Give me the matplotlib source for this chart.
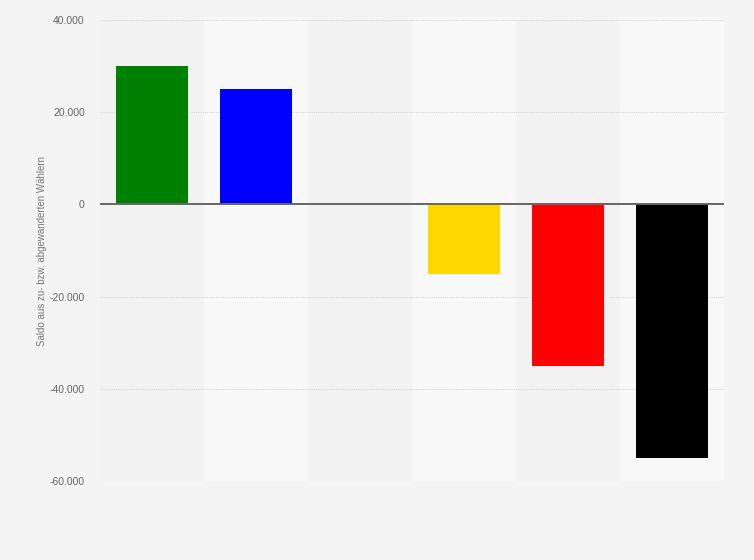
import matplotlib
matplotlib.use("Agg")
import matplotlib.pyplot as plt
from matplotlib.ticker import FuncFormatter

# Saldo der Wählerwanderung je Partei
parteien = ["Grüne", "Piraten", "Sonstige", "FDP", "SPD", "CDU"]
saldo = [30000, 25000, 0, -15000, -35000, -55000]
farben = ["#008000", "#0000ff", "#999999", "#fcd700", "#ff0000", "#000000"]
y_ticks = [-60000, -40000, -20000, 0, 20000, 40000]

plt.rcParams['font.family'] = ['Liberation Sans', 'DejaVu Sans']

fig = plt.figure(figsize=(7.54, 5.6), dpi=100)
fig.patch.set_facecolor("#f4f4f4")
ax = fig.add_axes([100/754, 1 - 481/560, 624/754, 461/560])
ax.set_facecolor("#f2f2f2")

x = list(range(len(parteien)))
# alternating column bands
for i in x:
    if i % 2 == 1:
        ax.axvspan(i - 0.5, i + 0.5, color="#f8f8f8", zorder=0, lw=0)

ax.bar(x, saldo, width=0.69, color=farben, zorder=3)
ax.axhline(0, color="#666666", lw=1.4, zorder=4)

ax.set_xlim(-0.5, len(parteien) - 0.5)
ax.set_ylim(-60000, 40000)
ax.set_yticks(y_ticks)
ax.yaxis.set_major_formatter(FuncFormatter(lambda v, p: f"{int(v):,}".replace(",", ".")))
ax.grid(axis="y", color="#d8d8d8", linestyle=(0, (1, 1)), lw=0.8, zorder=1)
ax.set_xticks([])
ax.tick_params(axis="y", length=0, labelsize=7.5, labelcolor="#666666", pad=11)
for s in ax.spines.values():
    s.set_visible(False)

ax.set_ylabel("Saldo aus zu- bzw. abgewanderten Wählern", fontsize=7, color="#777777", labelpad=2)

fig.savefig("out.png", dpi=100, facecolor=fig.get_facecolor())
